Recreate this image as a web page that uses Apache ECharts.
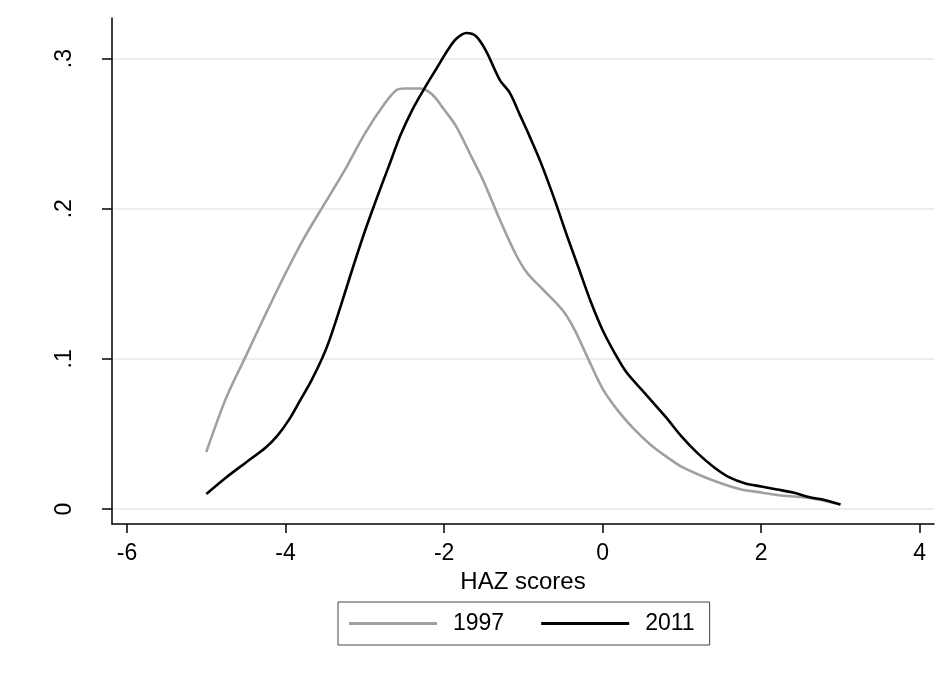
<!DOCTYPE html>
<html>
<head>
<meta charset="utf-8">
<script src="https://cdn.jsdelivr.net/npm/echarts@6/dist/echarts.min.js"></script>
<style>html,body{margin:0;padding:0;background:#fff}#c{width:945px;height:674px}</style>
</head>
<body>
<div id="c"></div>
<script>
var xTicks = [-6, -4, -2, 0, 2, 4];
var yTicks = [0, 0.1, 0.2, 0.3];
var seriesNames = ['1997', '2011'];
var x1997 = [-5.0,-4.75,-4.5,-4.25,-4.0,-3.75,-3.5,-3.25,-3.0,-2.75,-2.6,-2.5,-2.3,-2.15,-2.0,-1.85,-1.65,-1.5,-1.3,-1.1,-0.95,-0.75,-0.5,-0.35,-0.2,0.0,0.2,0.4,0.6,0.8,1.0,1.25,1.5,1.75,2.0,2.25,2.5,2.75,3.0];
var y1997 = [0.038,0.074,0.102,0.130,0.157,0.182,0.204,0.226,0.250,0.270,0.279,0.280,0.280,0.276,0.266,0.255,0.234,0.218,0.193,0.170,0.157,0.146,0.132,0.119,0.102,0.080,0.065,0.053,0.043,0.035,0.028,0.022,0.017,0.013,0.011,0.009,0.008,0.006,0.003];
var x2011 = [-5.0,-4.75,-4.5,-4.25,-4.1,-3.95,-3.82,-3.68,-3.55,-3.45,-3.3,-3.15,-3.0,-2.85,-2.7,-2.55,-2.4,-2.25,-2.1,-1.95,-1.85,-1.72,-1.6,-1.47,-1.3,-1.17,-1.04,-0.92,-0.79,-0.62,-0.45,-0.3,-0.15,0.0,0.15,0.3,0.5,0.65,0.8,1.0,1.2,1.4,1.6,1.8,2.0,2.2,2.4,2.6,2.8,3.0];
var y2011 = [0.010,0.021,0.031,0.041,0.049,0.060,0.072,0.085,0.099,0.112,0.136,0.161,0.185,0.207,0.228,0.249,0.266,0.280,0.293,0.306,0.313,0.317,0.315,0.305,0.286,0.277,0.262,0.248,0.232,0.208,0.182,0.160,0.138,0.119,0.104,0.091,0.079,0.070,0.061,0.048,0.037,0.028,0.021,0.017,0.015,0.013,0.011,0.008,0.006,0.003];

function pairs(xs, ys){ return xs.map(function(x,i){ return [x, ys[i]]; }); }

var font = "'Liberation Sans', Arial, Helvetica, sans-serif";
var chart = echarts.init(document.getElementById('c'), null, {renderer:'canvas'});
chart.setOption({
  animation: false,
  backgroundColor: '#ffffff',
  textStyle: {fontFamily: font},
  grid: {left: 112, right: 11, top: 18, bottom: 150, containLabel: false},
  legend: {
    left: 338, top: 602,
    itemWidth: 88, itemHeight: 3, itemGap: 37,
    icon: 'rect',
    padding: [10, 15, 10, 11],
    borderColor: '#444', borderWidth: 1,
    data: seriesNames,
    textStyle: {fontSize: 23, color: '#000', fontFamily: font, padding: [0,0,0,11]}
  },
  xAxis: {
    type: 'value', min: -6.19, max: 4.18,
    name: 'HAZ scores', nameLocation: 'middle', nameGap: 37,
    nameTextStyle: {fontSize: 24, color: '#000', fontFamily: font},
    axisLine: {show: true, onZero: false, lineStyle: {color: '#000', width: 1.5}},
    axisTick: {show: true, length: 9, customValues: xTicks, lineStyle: {color: '#000', width: 1.5}},
    axisLabel: {customValues: xTicks, fontSize: 23, color: '#000', margin: 18, fontFamily: font},
    splitLine: {show: false}
  },
  yAxis: {
    type: 'value', min: -0.01, max: 0.327,
    axisLine: {show: true, onZero: false, lineStyle: {color: '#000', width: 1.5}},
    axisTick: {show: true, length: 10, customValues: yTicks, lineStyle: {color: '#000', width: 1.5}},
    axisLabel: {customValues: yTicks, fontSize: 23, color: '#000', rotate: 90, margin: 36, fontFamily: font,
      formatter: function(v){ if (Math.abs(v) < 1e-9) return '0'; return String(Math.round(v*10)/10).replace(/^0/, ''); }},
    splitLine: {show: true, lineStyle: {color: '#e6eff1', width: 2}}
  },
  series: [
    {name: seriesNames[0], type: 'line', data: pairs(x1997, y1997), showSymbol: false, symbol: 'none', smooth: 0.3,
     lineStyle: {color: '#a0a0a0', width: 2.6}, itemStyle: {color: '#a0a0a0'}},
    {name: seriesNames[1], type: 'line', data: pairs(x2011, y2011), showSymbol: false, symbol: 'none', smooth: 0.3,
     lineStyle: {color: '#000000', width: 2.6}, itemStyle: {color: '#000000'}}
  ]
});
</script>
</body>
</html>
